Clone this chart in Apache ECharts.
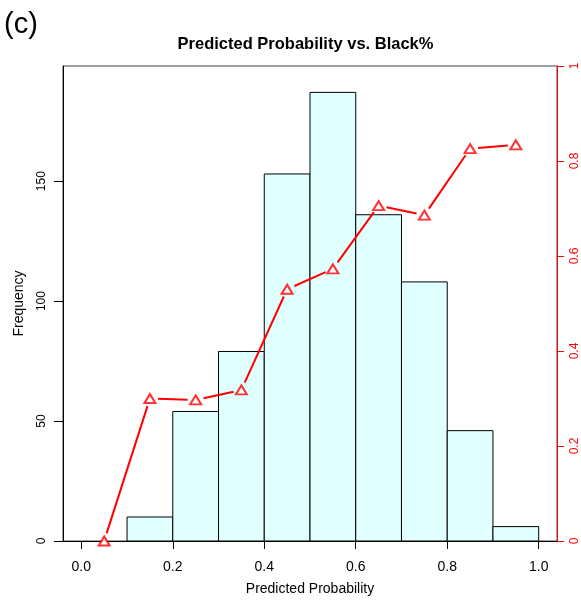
<!DOCTYPE html>
<html>
<head>
<meta charset="utf-8">
<script src="https://cdn.jsdelivr.net/npm/echarts@6/dist/echarts.min.js"></script>
<style>html,body{margin:0;padding:0;background:#fff}#c{width:581px;height:608px}</style>
</head>
<body>
<div id="c"></div>
<script>
// Histogram bins (predicted probability) and counts
var binStarts = [0.1, 0.2, 0.3, 0.4, 0.5, 0.6, 0.7, 0.8, 0.9];
var binEnds   = [0.2, 0.3, 0.4, 0.5, 0.6, 0.7, 0.8, 0.9, 1.0];
var counts    = [10, 54, 79, 153, 187, 136, 108, 46, 6];
// Black% by bin midpoint (right axis)
var midpoints = [0.05, 0.15, 0.25, 0.35, 0.45, 0.55, 0.65, 0.75, 0.85, 0.95];
var blackPct  = [0.00, 0.300, 0.297, 0.318, 0.530, 0.573, 0.706, 0.686, 0.826, 0.834];
// Tick labels
var xTicks = [0.0, 0.2, 0.4, 0.6, 0.8, 1.0];
var yLeftTicks = [0, 50, 100, 150];
var yRightTicks = [0, 0.2, 0.4, 0.6, 0.8, 1];

var FONT = 'Liberation Sans, Arial, Helvetica, sans-serif';

var histData = binStarts.map(function (s, i) { return [s, binEnds[i], counts[i]]; });
var pointData = midpoints.map(function (m, i) { return [m, blackPct[i]]; });
var segData = [];
for (var i = 0; i + 1 < midpoints.length; i++) {
  segData.push([midpoints[i], blackPct[i], midpoints[i + 1], blackPct[i + 1]]);
}
var GAP = 8; // R type="b" leaves a gap around each point

var chart = echarts.init(document.getElementById('c'), null, {renderer: 'canvas'});
chart.setOption({
  animation: false,
  backgroundColor: '#ffffff',
  textStyle: {fontFamily: FONT},
  graphic: [{
    type: 'text', left: 4, top: 10,
    style: {text: '(c)', fontFamily: FONT, fontSize: 29, fill: '#000'}
  }, {
    type: 'text', x: 305.5, y: 36,
    style: {text: 'Predicted Probability vs. Black%', fontFamily: FONT, fontWeight: 'bold',
      fontSize: 16.5, fill: '#000', align: 'center', verticalAlign: 'top'}
  }],
  grid: {left: 63, right: 24, top: 66, bottom: 67, show: true, borderColor: '#444', borderWidth: 1, containLabel: false},
  xAxis: {
    type: 'value', min: -0.04, max: 1.04,
    axisLine: {show: true, onZero: false, lineStyle: {color: '#000', width: 1}},
    axisTick: {show: true, customValues: xTicks, length: 8, lineStyle: {color: '#000'}},
    axisLabel: {customValues: xTicks, margin: 19, fontSize: 14, color: '#000', fontFamily: FONT,
      formatter: function (v) { return v.toFixed(1); }},
    splitLine: {show: false},
    name: 'Predicted Probability', nameLocation: 'middle', nameGap: 41,
    nameTextStyle: {fontSize: 14, color: '#000', fontFamily: FONT}
  },
  yAxis: [{
    type: 'value', min: 0, max: 198, position: 'left',
    axisLine: {show: true, onZero: false, lineStyle: {color: '#000', width: 1}},
    axisTick: {show: true, customValues: yLeftTicks, length: 9, lineStyle: {color: '#000'}},
    axisLabel: {customValues: yLeftTicks, rotate: 90, margin: 15, fontSize: 12, color: '#000', fontFamily: FONT},
    splitLine: {show: false},
    name: 'Frequency', nameLocation: 'middle', nameGap: 37, nameRotate: 90,
    nameTextStyle: {fontSize: 14, color: '#000', fontFamily: FONT}
  }, {
    type: 'value', min: 0, max: 1, position: 'right',
    axisLine: {show: true, onZero: false, lineStyle: {color: '#ff0000', width: 1}},
    axisTick: {show: true, customValues: yRightTicks, length: 7, lineStyle: {color: '#ff0000'}},
    axisLabel: {customValues: yRightTicks, rotate: 90, margin: 12, fontSize: 12, color: '#ff0000', fontFamily: FONT},
    splitLine: {show: false}
  }],
  series: [{
    type: 'custom',
    xAxisIndex: 0, yAxisIndex: 0,
    data: histData,
    encode: {x: [0, 1], y: 2},
    renderItem: function (params, api) {
      var p0 = api.coord([api.value(0), api.value(2)]);
      var p1 = api.coord([api.value(1), 0]);
      return {
        type: 'rect',
        shape: {x: p0[0], y: p0[1], width: p1[0] - p0[0], height: p1[1] - p0[1]},
        style: {fill: '#e0ffff', stroke: '#000', lineWidth: 1}
      };
    },
    z: 2
  }, {
    type: 'custom',
    xAxisIndex: 0, yAxisIndex: 1,
    data: segData,
    encode: {x: [0, 2], y: [1, 3]},
    renderItem: function (params, api) {
      var a = api.coord([api.value(0), api.value(1)]);
      var b = api.coord([api.value(2), api.value(3)]);
      var dx = b[0] - a[0], dy = b[1] - a[1];
      var len = Math.sqrt(dx * dx + dy * dy);
      if (len <= 2 * GAP) return null;
      var ux = dx / len, uy = dy / len;
      return {
        type: 'line',
        shape: {x1: a[0] + ux * GAP, y1: a[1] + uy * GAP, x2: b[0] - ux * GAP, y2: b[1] - uy * GAP},
        style: {stroke: '#ff0000', lineWidth: 2}
      };
    },
    z: 3
  }, {
    type: 'scatter',
    xAxisIndex: 0, yAxisIndex: 1,
    data: pointData,
    symbol: 'emptyTriangle', symbolSize: [11, 9],
    itemStyle: {color: '#ff0000', borderColor: '#ff0000', borderWidth: 2},
    z: 4
  }]
});
</script>
</body>
</html>
